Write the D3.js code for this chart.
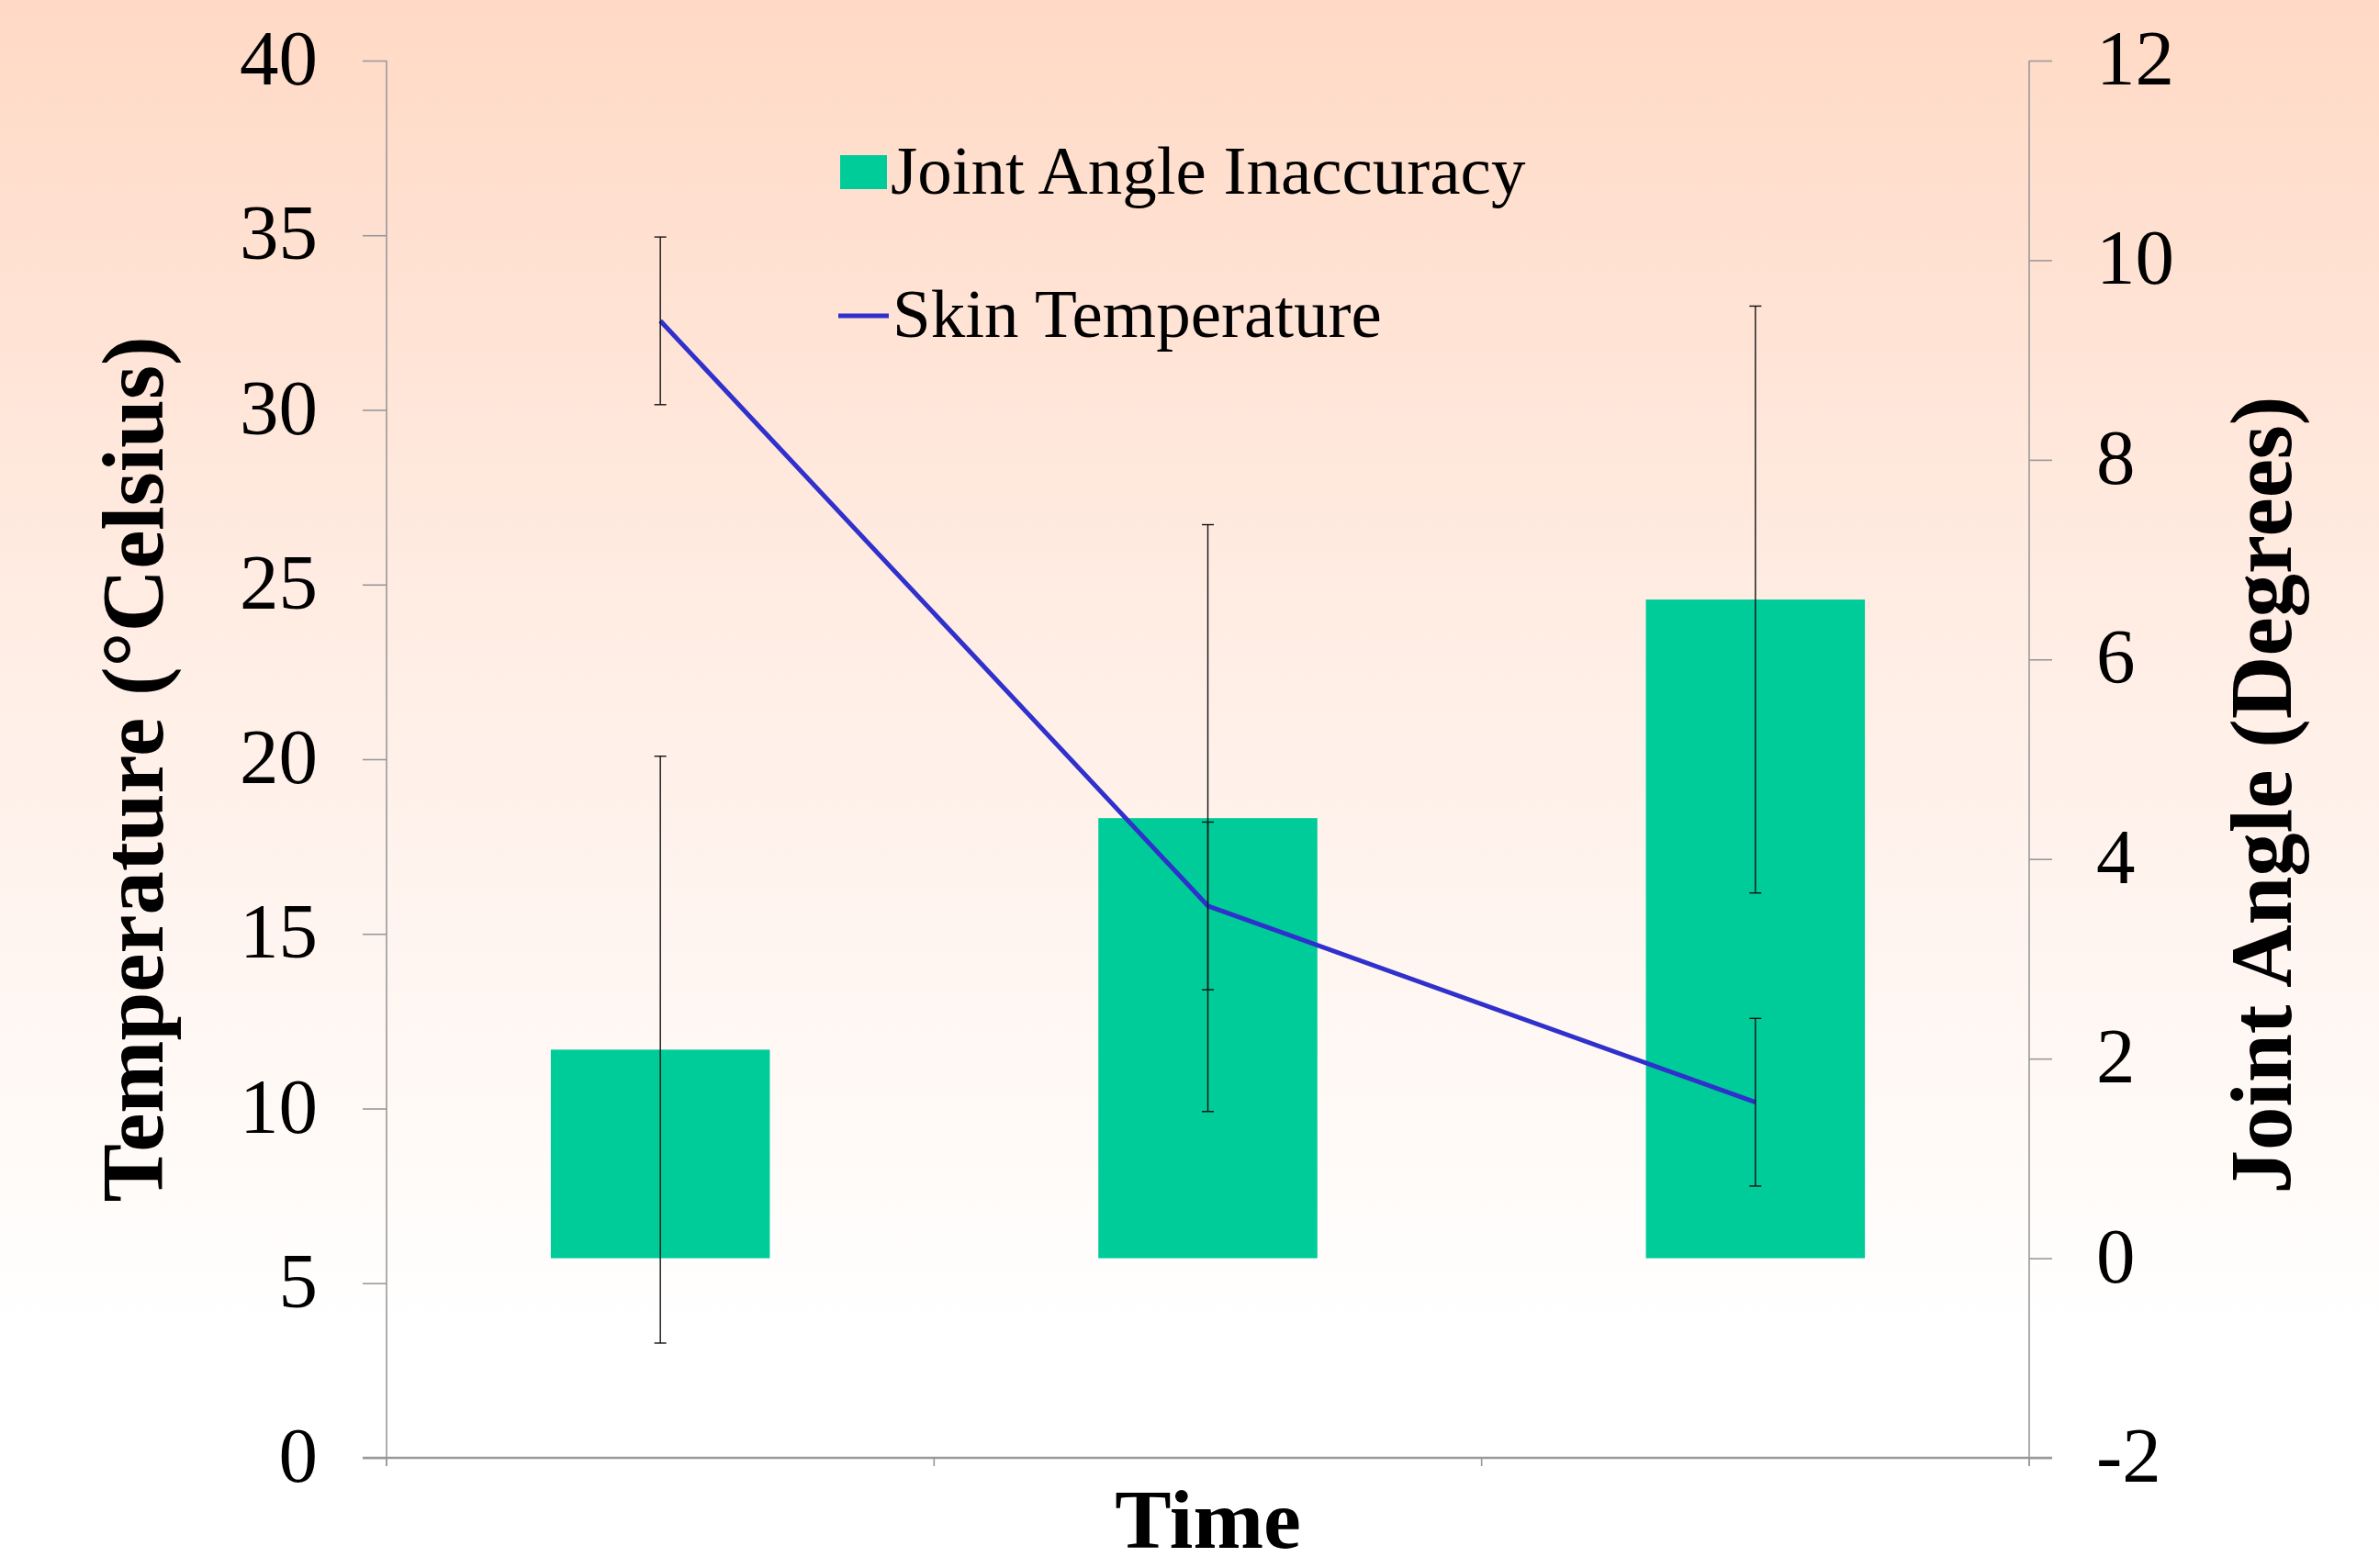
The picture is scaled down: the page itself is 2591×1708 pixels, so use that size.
<!DOCTYPE html>
<html>
<head>
<meta charset="utf-8">
<script src="https://cdn.jsdelivr.net/npm/d3@7"></script>
<style>
  html, body { margin: 0; padding: 0; background: #fff; }
  svg { display: block; }
</style>
</head>
<body>
<div id="chart"></div>
<script>
// chart data
const categories = ["Time 1", "Time 2", "Time 3"];
const skinTemp = [32.55, 15.8, 10.18];
const skinTempErr = [2.4, 2.4, 2.4];
const jointAngle = [2.09, 4.41, 6.6];
const jointAngleErr = [2.94, 2.94, 2.94];
const tempTicks = [0, 5, 10, 15, 20, 25, 30, 35, 40];
const angleTicks = [-2, 0, 2, 4, 6, 8, 10, 12];

const width = 2591, height = 1708;
const plotLeft = 421, plotRight = 2210, plotTop = 66, plotBottom = 1588;
const font = "'Liberation Serif', 'Times New Roman', serif";

const svg = d3.select("#chart").append("svg")
    .attr("width", width)
    .attr("height", height);

// peach to white background
const grad = svg.append("defs").append("linearGradient")
    .attr("id", "bg")
    .attr("x1", 0).attr("y1", 0).attr("x2", 0).attr("y2", 1);
grad.append("stop").attr("offset", "0%").attr("stop-color", "#ffd9c5");
grad.append("stop").attr("offset", "40%").attr("stop-color", "#ffede4");
grad.append("stop").attr("offset", "85%").attr("stop-color", "#ffffff");
svg.append("rect").attr("width", width).attr("height", height).attr("fill", "url(#bg)");

const x = d3.scaleBand().domain(categories).range([plotLeft, plotRight]).padding(0);
const yTemp = d3.scaleLinear().domain([0, 40]).range([plotBottom, plotTop]);
const yAngle = d3.scaleLinear().domain([-2, 12]).range([plotBottom, plotTop]);
const barW = x.bandwidth() * 0.4;
const cx = d => x(d) + x.bandwidth() / 2;

// bars (right axis)
svg.append("g").selectAll("rect")
    .data(categories)
    .enter()
    .append("rect")
    .attr("x", d => cx(d) - barW / 2)
    .attr("width", barW)
    .attr("y", (d, i) => yAngle(jointAngle[i]))
    .attr("height", (d, i) => yAngle(0) - yAngle(jointAngle[i]))
    .attr("fill", "#00cc99");

function errorBars(values, errs, scale) {
    const g = svg.append("g").attr("stroke", "#111").attr("stroke-width", 1.4);
    categories.forEach((c, i) => {
        const xx = cx(c);
        const y1 = scale(values[i] + errs[i]);
        const y2 = scale(values[i] - errs[i]);
        g.append("line").attr("x1", xx).attr("x2", xx).attr("y1", y1).attr("y2", y2);
        g.append("line").attr("x1", xx - 6.5).attr("x2", xx + 6.5).attr("y1", y1).attr("y2", y1);
        g.append("line").attr("x1", xx - 6.5).attr("x2", xx + 6.5).attr("y1", y2).attr("y2", y2);
    });
}
errorBars(jointAngle, jointAngleErr, yAngle);

// skin temperature line (left axis)
const line = d3.line()
    .x((d, i) => cx(categories[i]))
    .y(d => yTemp(d));
svg.append("path")
    .datum(skinTemp)
    .attr("d", line)
    .attr("fill", "none")
    .attr("stroke", "#3030cc")
    .attr("stroke-width", 5)
    .attr("stroke-linejoin", "round");
errorBars(skinTemp, skinTempErr, yTemp);

// axes
const axisColor = "#999";
const leftAxis = svg.append("g")
    .attr("transform", `translate(${plotLeft},0)`)
    .call(d3.axisLeft(yTemp).tickValues(tempTicks).tickFormat(d => String(d))
        .tickSize(26).tickPadding(49).tickSizeOuter(0));
const rightAxis = svg.append("g")
    .attr("transform", `translate(${plotRight},0)`)
    .call(d3.axisRight(yAngle).tickValues(angleTicks).tickFormat(d => String(d))
        .tickSize(25).tickPadding(48).tickSizeOuter(0));

[leftAxis, rightAxis].forEach(a => {
    a.select(".domain").remove();
    a.selectAll(".tick line").attr("stroke", axisColor).attr("stroke-width", 1.6);
    a.selectAll(".tick text")
        .attr("fill", "#000")
        .attr("dy", "0.3em")
        .style("font-family", font)
        .style("font-size", "85px");
});

// vertical axis lines run a little below the x axis
svg.append("line").attr("x1", plotLeft).attr("x2", plotLeft).attr("y1", plotTop).attr("y2", plotBottom + 9)
    .attr("stroke", axisColor).attr("stroke-width", 1.6);
svg.append("line").attr("x1", plotRight).attr("x2", plotRight).attr("y1", plotTop).attr("y2", plotBottom + 9)
    .attr("stroke", axisColor).attr("stroke-width", 1.6);

// x axis with ticks between categories
const bounds = categories.map(c => x(c)).concat([x(categories[categories.length - 1]) + x.bandwidth()]);
svg.append("g").selectAll("line")
    .data(bounds)
    .enter()
    .append("line")
    .attr("x1", d => d).attr("x2", d => d)
    .attr("y1", plotBottom).attr("y2", plotBottom + 9)
    .attr("stroke", axisColor).attr("stroke-width", 1.6);
svg.append("line")
    .attr("x1", plotLeft - 26).attr("x2", plotRight + 25)
    .attr("y1", plotBottom).attr("y2", plotBottom)
    .attr("stroke", axisColor).attr("stroke-width", 2.5);

// axis titles
svg.append("text")
    .attr("transform", `translate(177,838) rotate(-90)`)
    .attr("text-anchor", "middle")
    .style("font-family", font)
    .style("font-size", "95px")
    .style("font-weight", "bold")
    .text("Temperature (°Celsius)");

svg.append("text")
    .attr("transform", `translate(2495,866) rotate(-90)`)
    .attr("text-anchor", "middle")
    .style("font-family", font)
    .style("font-size", "95px")
    .style("font-weight", "bold")
    .text("Joint Angle (Degrees)");

svg.append("text")
    .attr("x", (plotLeft + plotRight) / 2)
    .attr("y", 1686)
    .attr("text-anchor", "middle")
    .style("font-family", font)
    .style("font-size", "92px")
    .style("font-weight", "bold")
    .text("Time");

// legend
const legend = svg.append("g");
legend.append("rect")
    .attr("x", 915).attr("y", 169).attr("width", 51).attr("height", 37)
    .attr("fill", "#00cc99");
legend.append("text")
    .attr("x", 970).attr("y", 211)
    .style("font-family", font)
    .style("font-size", "75px")
    .text("Joint Angle Inaccuracy");
legend.append("line")
    .attr("x1", 913).attr("x2", 968).attr("y1", 344).attr("y2", 344)
    .attr("stroke", "#3030cc").attr("stroke-width", 5);
legend.append("text")
    .attr("x", 972).attr("y", 367)
    .style("font-family", font)
    .style("font-size", "75px")
    .text("Skin Temperature");
</script>
</body>
</html>
